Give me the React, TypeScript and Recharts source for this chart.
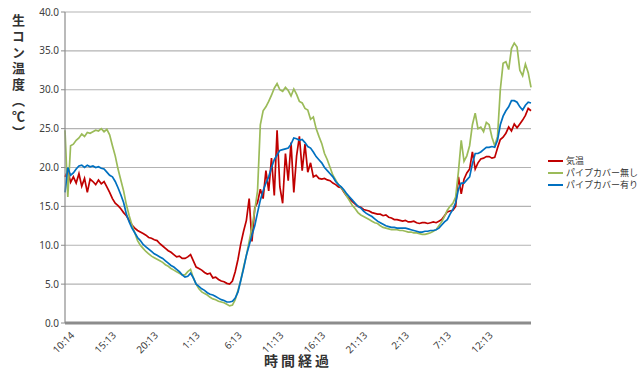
import React from "react";
import { LineChart, Line, XAxis, YAxis, CartesianGrid } from "recharts";

// readings every 20 minutes, starting 10:14
const tickLabels = ["10:14", "15:13", "20:13", "1:13", "6:13", "11:13", "16:13", "21:13", "2:13", "7:13", "12:13"];
const yTicks = [0, 5, 10, 15, 20, 25, 30, 35, 40];

const airTemp = [
  18.8, 19.6, 18.1, 18.8, 18.0, 19.2, 17.6, 18.6, 16.8, 18.5, 18.2, 17.8, 18.4, 17.9, 18.2,
  17.5, 16.8, 16.0, 15.4, 15.1, 14.7, 14.2, 13.8, 13.2, 12.6, 12.2, 11.9, 11.7, 11.5, 11.3,
  11.0, 10.9, 10.7, 10.6, 10.2, 9.9, 9.6, 9.3, 9.1, 8.8, 8.5, 8.6, 8.3, 8.3, 8.5,
  8.8, 8.0, 7.2, 7.0, 6.8, 6.5, 6.3, 6.4, 5.8, 5.9, 5.6, 5.4, 5.3, 5.1, 5.0,
  5.4, 6.6, 8.2, 10.2, 11.8, 13.2, 16.0, 10.5, 14.8, 15.5, 17.2, 16.0, 19.6, 17.0, 21.2,
  16.4, 24.8, 17.5, 15.4, 21.8, 18.3, 23.2, 16.8, 21.5, 24.0, 19.6, 23.0, 19.4, 20.6, 18.8,
  19.0, 18.6, 18.5, 18.6, 18.4, 18.3, 18.0, 17.8, 17.5, 17.4, 16.8, 16.3, 16.0, 15.6, 15.3,
  15.0, 14.9, 14.6, 14.5, 14.4, 14.2, 14.1, 14.0, 14.0, 13.8, 13.9, 13.6, 13.5, 13.3, 13.3,
  13.2, 13.1, 13.2, 13.0, 13.0, 13.1, 12.9, 12.8, 12.9, 12.9, 12.8, 12.9, 13.0, 12.9, 13.1,
  13.3, 13.8, 14.3, 14.4, 14.5, 15.0, 18.8, 16.6, 18.5, 19.3, 19.8, 22.0, 19.8, 20.6, 21.1,
  21.2, 21.4, 21.4, 21.2, 21.3, 22.5, 23.6, 23.9, 24.4, 25.2, 24.7, 25.6, 25.1, 25.6, 26.1,
  26.7, 27.6, 27.3,
];

const noCover = [
  24.8, 16.2, 22.8, 23.0, 23.5, 23.8, 24.3, 24.0, 24.5, 24.4, 24.6, 24.8, 24.7, 25.0, 24.6,
  24.9, 24.2, 22.8, 21.5, 19.8, 18.4, 17.0, 15.2, 13.8, 12.6, 11.6, 10.6, 10.0, 9.6, 9.2,
  8.9, 8.6, 8.4, 8.2, 8.0, 7.8, 7.5, 7.3, 7.0, 6.8, 6.6, 6.4, 6.2, 6.2, 6.6,
  6.9, 5.8, 5.0, 4.4, 4.0, 3.8, 3.6, 3.3, 3.1, 3.0, 2.8, 2.7, 2.6, 2.4, 2.2,
  2.3, 3.0, 4.2, 5.5, 7.2, 8.7, 10.5, 12.3, 14.5, 17.0, 25.5, 27.3, 27.8, 28.5, 29.3,
  30.2, 30.8, 30.0, 29.8, 30.3, 29.9, 29.2, 30.1, 29.4, 28.5, 28.3, 27.6, 27.4, 26.2, 26.5,
  25.0, 24.0, 23.1, 21.8, 21.0, 20.0, 19.0, 18.4, 17.8, 17.4, 16.9, 16.3, 15.7, 15.1, 14.7,
  14.2, 13.9, 13.7, 13.5, 13.3, 13.1, 12.9, 12.8, 12.5, 12.3, 12.2, 12.1, 12.0, 12.0, 12.0,
  11.9, 11.9, 11.8, 11.7, 11.7, 11.6, 11.6, 11.5, 11.4, 11.4, 11.5, 11.6, 11.8, 12.0, 12.5,
  13.0, 13.7, 14.5, 15.0, 15.4, 16.2, 19.5, 23.5, 20.8, 21.5, 22.8, 25.5, 27.0, 25.0, 25.2,
  24.6, 25.8, 25.5, 23.9, 22.8, 24.0, 30.0, 33.4, 33.6, 32.6, 35.3, 36.0, 35.5, 32.5, 31.8,
  33.3, 32.2, 30.3,
];

const withCover = [
  16.8, 20.0, 19.0, 19.3, 19.8, 20.2, 20.3, 20.0, 20.3, 20.1, 20.2, 20.0, 20.1, 19.9, 19.8,
  19.4, 19.0, 18.8, 18.2, 17.4, 16.5, 15.5, 14.0, 13.0, 12.2, 11.6, 11.0, 10.6, 10.1, 9.8,
  9.5, 9.2, 8.9, 8.7, 8.5, 8.3, 8.0, 7.7, 7.4, 7.2, 6.9, 6.6, 6.2, 5.9, 6.0,
  6.4, 5.8, 5.0, 4.7, 4.4, 4.2, 3.9, 3.7, 3.6, 3.4, 3.2, 3.0, 2.9, 2.7, 2.7,
  2.8, 3.2, 4.0, 5.5, 7.0, 8.7, 10.0, 11.3, 12.5, 14.2, 15.8, 17.0, 18.0, 18.8, 20.0,
  21.0, 21.6, 22.2, 22.3, 22.4, 22.5, 23.0, 23.8, 23.7, 23.5, 23.6, 23.2, 22.7, 22.5, 22.0,
  21.4, 21.0, 20.6, 20.0, 19.6, 19.2, 18.8, 18.2, 17.8, 17.5, 17.1, 16.6, 16.2, 15.8, 15.4,
  15.0, 14.8, 14.4, 14.1, 13.9, 13.7, 13.4, 13.1, 12.9, 12.7, 12.5, 12.4, 12.3, 12.3, 12.2,
  12.2, 12.2, 12.2, 12.1, 12.0, 11.9, 11.8, 11.7, 11.7, 11.8, 11.8, 11.9, 11.9, 12.0, 12.2,
  12.6, 13.0, 13.3, 14.0, 14.6, 15.5, 17.2, 18.0, 18.0, 18.4, 18.8, 20.5, 21.8, 21.8, 22.0,
  22.3, 22.6, 22.6, 22.7, 22.6, 23.5, 25.5, 26.6, 27.3, 27.8, 28.6, 28.6, 28.4, 27.8, 27.4,
  28.0, 28.4, 28.3,
];

const data = airTemp.map((v, i) => ({
  idx: i,
  air: v,
  noCover: noCover[i],
  withCover: withCover[i],
}));

const series = [
  { key: "air", name: "気温", color: "#c00000" },
  { key: "noCover", name: "パイプカバー無し", color: "#9bbb59" },
  { key: "withCover", name: "パイプカバー有り", color: "#0070c0" },
];

const FONT = "'Noto Sans', 'Noto Sans CJK JP', sans-serif";

const XTick = ({ x, y, payload }: any) => (
  <text
    transform={`translate(${x + 10},${y + 5}) rotate(-45)`}
    textAnchor="end"
    fontSize={10}
    fill="#404040"
    fontFamily={FONT}
  >
    {tickLabels[payload.value / 15]}
  </text>
);

export default function App() {
  return (
    <div style={{ position: "absolute", left: 0, top: 0, width: 641, height: 369, background: "#fff", fontFamily: FONT }}>
      <LineChart width={641} height={369} data={data} margin={{ top: 12, right: 110, left: 25, bottom: 6 }}>
        <CartesianGrid horizontal vertical={false} stroke="#b3b3b3" strokeWidth={1.2} />
        <XAxis
          dataKey="idx"
          interval={14}
          tick={<XTick />}
          tickLine={false}
          axisLine={{ stroke: "#8c8c8c", strokeWidth: 3 }}
          height={40}
        />
        <YAxis
          domain={[0, 40]}
          ticks={yTicks}
          width={40}
          tickFormatter={(v) => v.toFixed(1)}
          tick={{ fontSize: 10, fill: "#404040", fontFamily: FONT }}
          tickLine={{ stroke: "#8c8c8c" }}
          tickSize={4}
          axisLine={{ stroke: "#8c8c8c", strokeWidth: 1.2 }}
        />
        {series.map((s) => (
          <Line
            key={s.key}
            dataKey={s.key}
            name={s.name}
            stroke={s.color}
            strokeWidth={1.7}
            dot={false}
            type="linear"
            isAnimationActive={false}
          />
        ))}
      </LineChart>
      <div
        style={{
          position: "absolute",
          left: 9,
          top: 14,
          writingMode: "vertical-rl",
          textOrientation: "upright",
          fontSize: 13,
          fontWeight: 700,
          letterSpacing: 3,
          color: "#333",
          fontFamily: "'Noto Sans CJK JP', sans-serif",
        }}
      >
        生コン温度（℃）
      </div>
      <div
        style={{
          position: "absolute",
          left: 0,
          width: 641 - 110 + 65,
          top: 350,
          textAlign: "center",
          fontSize: 14,
          fontWeight: 700,
          letterSpacing: 3,
          color: "#333",
          fontFamily: "'Noto Sans CJK JP', sans-serif",
        }}
      >
        時間経過
      </div>
      <div style={{ position: "absolute", left: 548, top: 155, fontSize: 9, color: "#333", lineHeight: "12px", fontFamily: "'Noto Sans CJK JP', sans-serif", whiteSpace: "nowrap" }}>
        {series.map((s) => (
          <div key={s.key} style={{ display: "flex", alignItems: "center" }}>
            <span style={{ display: "inline-block", width: 15, height: 2, background: s.color, marginRight: 3 }} />
            <span>{s.name}</span>
          </div>
        ))}
      </div>
    </div>
  );
}
